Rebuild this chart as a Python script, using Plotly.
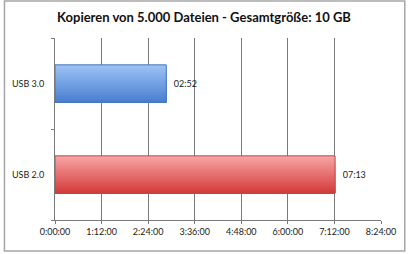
import plotly.graph_objects as go

# ---- data ----
categories = ["USB 2.0", "USB 3.0"]
minutes = [433, 172]            # 07:13 and 02:52 (h:mm)
bar_top_colors = ["#f7a3a3", "#9cc2f6"]
bar_bottom_colors = ["#d43c3c", "#4a7fcf"]
bar_edge_colors = ["#c04848", "#4474bb"]
tick_minutes = [0, 72, 144, 216, 288, 360, 432, 504]

tick_text = [f"{t // 60}:{t % 60:02d}:00" for t in tick_minutes]
value_text = [f"  {v // 60:02d}:{v % 60:02d}" for v in minutes]

FONT = "Lato"
bar_w = 0.41
N = 20


def mix(c1, c2, f):
    a = [int(c1[i:i + 2], 16) for i in (1, 3, 5)]
    b = [int(c2[i:i + 2], 16) for i in (1, 3, 5)]
    return "#%02x%02x%02x" % tuple(round(a[k] + (b[k] - a[k]) * f) for k in range(3))


fig = go.Figure()
# gradient: each layer spans from the bar bottom up to a decreasing height
for k in range(N):
    frac = (N - k) / N
    f = (N - k - 1) / (N - 1)      # 1 = top colour, 0 = bottom colour
    cols = [mix(bar_bottom_colors[j], bar_top_colors[j], f) for j in range(len(categories))]
    fig.add_trace(go.Bar(
        y=categories, x=minutes, orientation="h",
        width=bar_w * frac, offset=-bar_w / 2,
        marker=dict(color=cols, line=dict(width=0)),
        hoverinfo="skip", showlegend=False,
    ))
# outline + labels
fig.add_trace(go.Bar(
    y=categories, x=minutes, orientation="h",
    width=bar_w, offset=-bar_w / 2,
    marker=dict(color="rgba(0,0,0,0)", line=dict(color=bar_edge_colors, width=1)),
    text=value_text, textposition="outside", cliponaxis=False,
    textfont=dict(family=FONT, size=9, color="#222222"),
    showlegend=False,
))

# outer frame
L, R, T, B = 52, 27, 38, 34
pw, ph = 408 - L - R, 254 - T - B
fig.add_shape(type="rect", xref="paper", yref="paper",
              x0=(1 - L) / pw, x1=(405 - L) / pw,
              y0=(T + ph - 251) / ph, y1=(T + ph - 1) / ph,
              line=dict(color="#a6a6a6", width=1.5), fillcolor="rgba(0,0,0,0)", layer="below")

fig.update_layout(
    width=408, height=254,
    margin=dict(l=L, r=R, t=T, b=B),
    paper_bgcolor="white", plot_bgcolor="white",
    barmode="overlay",
    title=dict(text="<b>Kopieren von 5.000 Dateien - Gesamtgröße: 10 GB</b>",
               x=0.5, xanchor="center", y=1 - 17 / 254, yanchor="middle",
               font=dict(family=FONT, size=13, color="#111111")),
    xaxis=dict(range=[0, 504], tickvals=tick_minutes, ticktext=tick_text,
               showgrid=True, gridcolor="#7a7a7a", gridwidth=1,
               showline=True, linecolor="#7a7a7a", linewidth=1,
               ticks="outside", ticklen=3, tickcolor="#7a7a7a",
               tickfont=dict(family=FONT, size=9, color="#222222"),
               zeroline=False, fixedrange=True),
    yaxis=dict(showgrid=False, showline=True, linecolor="#7a7a7a", linewidth=1,
               ticks="outside", ticklen=3, tickcolor="#7a7a7a", tickson="boundaries",
               tickfont=dict(family=FONT, size=9, color="#222222"),
               zeroline=False, fixedrange=True, ticklabelstandoff=8),
    font=dict(family=FONT),
)

fig.write_html("out.html")
